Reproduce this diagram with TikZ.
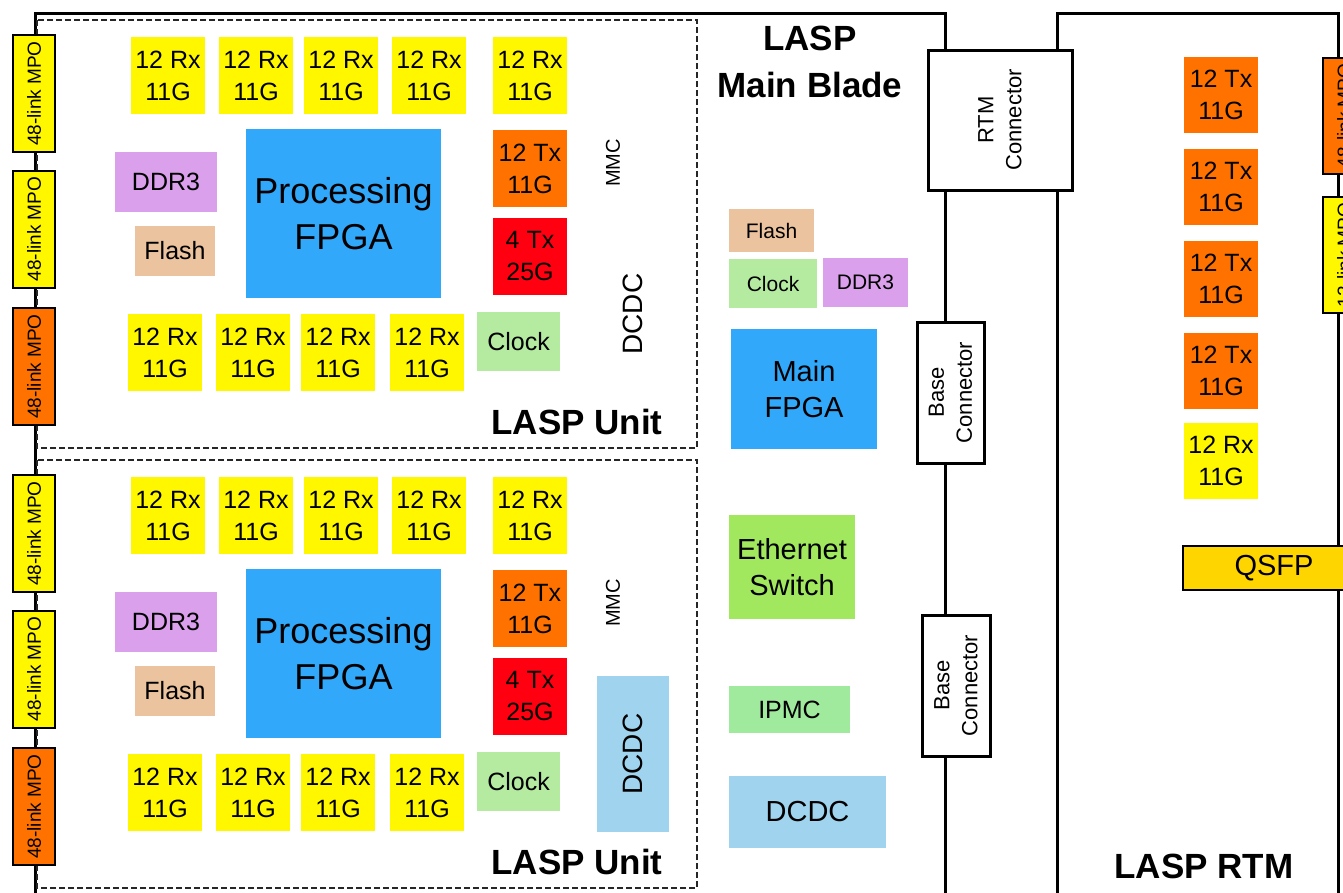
\documentclass[tikz,border=0pt]{standalone}
\usepackage{fontspec}
\setmainfont{Liberation Sans}
\usetikzlibrary{positioning}
\definecolor{rxyellow}{HTML}{FFF700}
\definecolor{txorange}{HTML}{FF7200}
\definecolor{fastred}{HTML}{FF0010}
\definecolor{fpgablue}{HTML}{31A8F9}
\definecolor{ddrpurple}{HTML}{DAA0EC}
\definecolor{flashtan}{HTML}{EBC39F}
\definecolor{clockgreen}{HTML}{B4EBA0}
\definecolor{ethgreen}{HTML}{A2E85E}
\definecolor{ipmcgreen}{HTML}{A0EA9E}
\definecolor{dcdcblue}{HTML}{A0D4EE}
\definecolor{qsfpgold}{HTML}{FFD500}
\begin{document}
\begin{tikzpicture}[x=1pt,y=-1pt,
 every node/.style={align=center,inner sep=0pt},
 board/.style={line width=3pt},
 unitbox/.style={draw=black!85,dash pattern=on 6pt off 3pt,line width=1.3pt},
 chip/.style={minimum width=74,minimum height=77,font=\fontsize{25}{32}\selectfont},
 rxchip/.style={chip,fill=rxyellow},
 txchip/.style={chip,fill=txorange},
 fastchip/.style={chip,fill=fastred},
 part/.style={font=\fontsize{25}{30}\selectfont},
 small/.style={font=\fontsize{21}{25}\selectfont},
 mid/.style={font=\fontsize{29}{36}\selectfont},
 fpga/.style={fill=fpgablue,font=\fontsize{36}{46}\selectfont},
 mpo/.style={draw,line width=2pt,rotate=90,minimum width=117,minimum height=42,
  font=\fontsize{19}{23}\selectfont},
 conn/.style={draw,fill=white,line width=3pt,rotate=90,font=\fontsize{22}{28}\selectfont},
 rotlabel/.style={rotate=90,font=\fontsize{20}{24}\selectfont},
 dcdc/.style={rotate=90,minimum width=156,minimum height=72,font=\fontsize{28}{32}\selectfont},
 title/.style={font=\fontsize{35}{47}\selectfont\bfseries}]
\useasboundingbox (0,0) rectangle (1343,892);
\clip (0,0) rectangle (1343,892);
% board outlines
\draw[board] (35,900) -- (35,13) -- (945,13) -- (945,900);
\draw[board] (1057,900) -- (1057,13) -- (1338,13) -- (1338,900);
% the two LASP units
\foreach \u/\dy/\dcfill in {a/0/white,b/440/dcdcblue}{
 \begin{scope}[shift={(0,\dy)}]
  \draw[unitbox] (37,20) rectangle (697,448);
  \foreach \n/\x in {1/168,2/256,3/341,4/429,5/530}
   \node[rxchip] (rxt\n\u) at (\x,75.5) {12 Rx\\11G};
  \foreach \n/\x in {1/165,2/253,3/338,4/427}
   \node[rxchip] (rxb\n\u) at (\x,352.5) {12 Rx\\11G};
  \node[txchip] (tx\u) at (530,168.5) {12 Tx\\11G};
  \node[fastchip] (fast\u) at (530,256.5) {4 Tx\\25G};
  \node[part,fill=clockgreen,minimum width=83,minimum height=59] (clk\u) at (518.5,341.5) {Clock};
  \node[part,fill=ddrpurple,minimum width=102,minimum height=60] (ddr\u) at (166,182) {DDR3};
  \node[part,fill=flashtan,minimum width=80,minimum height=50] (flash\u) at (175,251) {Flash};
  \node[fpga,minimum width=195,minimum height=169] (fpga\u) at (343.5,213.5) {Processing\\FPGA};
  \node[rotlabel] (mmc\u) at (613,163) {MMC};
  \node[dcdc,fill=\dcfill] (dcdc\u) at (633,314) {DCDC};
  \node[title] (unit\u) at (577,422) {LASP Unit};
  \foreach \n/\y/\c in {1/93.5/rxyellow,2/229/rxyellow,3/366.5/txorange}
   \node[mpo,fill=\c] (mpo\n\u) at (34,\y) {48-link MPO};
 \end{scope}
}
% main blade parts
\node[title] (blade) at (810,62) {LASP\\Main Blade};
\node[small,fill=flashtan,minimum width=85,minimum height=43] (mflash) at (771.5,230.5) {Flash};
\node[small,fill=clockgreen,minimum width=88,minimum height=49] (mclk) at (773,283.5) {Clock};
\node[small,fill=ddrpurple,minimum width=85,minimum height=49] (mddr) at (865.5,282.5) {DDR3};
\node[mid,fill=fpgablue,minimum width=146,minimum height=120] (mfpga) at (804,389) {Main\\FPGA};
\node[mid,fill=ethgreen,minimum width=126,minimum height=104] (eth) at (792,567) {Ethernet\\Switch};
\node[part,fill=ipmcgreen,minimum width=121,minimum height=47] (ipmc) at (789.5,709.5) {IPMC};
\node[mid,fill=dcdcblue,minimum width=157,minimum height=72] (mdcdc) at (807.5,812) {DCDC};
% connectors
\node[conn,minimum width=140,minimum height=144] (rtmconn) at (1000,120) {RTM\\Connector};
\node[conn,minimum width=141,minimum height=67] (base1) at (950.5,392.5) {Base\\Connector};
\node[conn,minimum width=141,minimum height=68] (base2) at (956,685.5) {Base\\Connector};
% RTM parts
\node[txchip,minimum height=76] (rtx1) at (1221,95) {12 Tx\\11G};
\node[txchip,minimum height=76,below=15.5pt of rtx1] (rtx2) {12 Tx\\11G};
\node[txchip,minimum height=76,below=15.5pt of rtx2] (rtx3) {12 Tx\\11G};
\node[txchip,minimum height=76,below=15.5pt of rtx3] (rtx4) {12 Tx\\11G};
\node[rxchip,minimum height=76,below=14pt of rtx4] (rrx) {12 Rx\\11G};
\node[mpo,fill=txorange,minimum width=116] (rmpo1) at (1344,116) {48-link MPO};
\node[mpo,fill=rxyellow,minimum width=116] (rmpo2) at (1344,255) {12-link MPO};
\node[mid,draw,line width=1.5pt,fill=qsfpgold,minimum width=182,minimum height=44] (qsfp) at (1274,568) {QSFP};
\node[title] (rtm) at (1204,866) {LASP RTM};
\end{tikzpicture}
\end{document}
